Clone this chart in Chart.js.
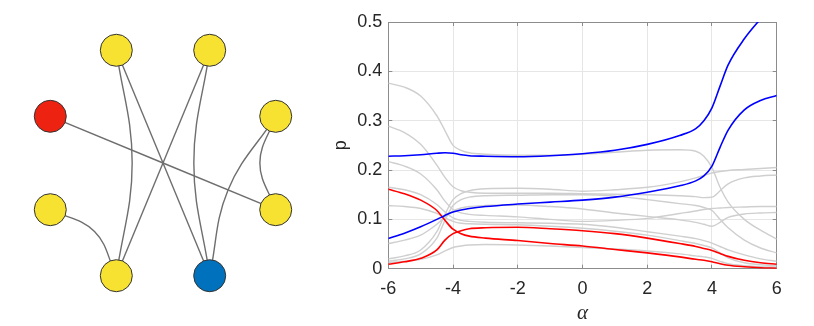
<!DOCTYPE html>
<html>
<head>
<meta charset="utf-8">
<script src="https://cdn.jsdelivr.net/npm/chart.js@4.4.0/dist/chart.umd.min.js"></script>
<style>
  body { margin: 0; background: #fff; }
  #wrap { position: relative; width: 814px; height: 326px; }
  #graphBox { position: absolute; left: 0; top: 0; width: 326px; height: 326px; }
  #lineBox { position: absolute; left: 330px; top: 0; width: 484px; height: 326px; }
</style>
</head>
<body>
<div id="wrap">
  <div id="graphBox"><canvas id="graphCanvas"></canvas></div>
  <div id="lineBox"><canvas id="lineCanvas"></canvas></div>
</div>
<script>
// ---- network (left panel) ----
// node 0 sits at 22.5 degrees, the rest follow counter-clockwise every 45 degrees
var nodeColors = ['#F8E231', '#F8E231', '#F8E231', '#EE2211', '#F8E231', '#F8E231', '#0072BD', '#F8E231'];
var edges = [[2, 5], [2, 6], [1, 5], [1, 6], [3, 7], [0, 6], [0, 7], [4, 5]];

// ---- p versus alpha (right panel) ----
var alpha = [-6, -5.5, -5, -4.5, -4.25, -4, -3.75, -3.5, -3, -2, -1, 0, 1, 2, 3, 3.5, 3.75, 4, 4.25, 4.5, 5, 5.5, 6];

var blueHigh = [0.228, 0.229, 0.231, 0.234, 0.235, 0.234, 0.231, 0.229, 0.228, 0.227, 0.229, 0.233, 0.240, 0.252, 0.270, 0.284, 0.300, 0.326, 0.370, 0.413, 0.466, 0.506, 0.540];
var blueLow = [0.061, 0.072, 0.085, 0.100, 0.108, 0.115, 0.119, 0.122, 0.126, 0.131, 0.135, 0.139, 0.145, 0.155, 0.168, 0.178, 0.188, 0.208, 0.246, 0.281, 0.322, 0.341, 0.351];
var redHigh = [0.161, 0.152, 0.139, 0.118, 0.098, 0.080, 0.071, 0.066, 0.062, 0.057, 0.051, 0.046, 0.039, 0.032, 0.024, 0.019, 0.017, 0.014, 0.010, 0.007, 0.004, 0.002, 0.001];
var redLow = [0.009, 0.014, 0.021, 0.038, 0.058, 0.071, 0.077, 0.081, 0.083, 0.084, 0.081, 0.077, 0.071, 0.062, 0.051, 0.045, 0.041, 0.037, 0.031, 0.025, 0.017, 0.012, 0.009];

var grayA = [0.376, 0.368, 0.350, 0.310, 0.280, 0.250, 0.240, 0.235, 0.232, 0.230, 0.230, 0.232, 0.236, 0.240, 0.241, 0.238, 0.228, 0.205, 0.165, 0.135, 0.100, 0.078, 0.060];
var grayB = [0.289, 0.276, 0.252, 0.210, 0.185, 0.166, 0.158, 0.155, 0.153, 0.153, 0.153, 0.152, 0.151, 0.150, 0.148, 0.146, 0.144, 0.145, 0.158, 0.172, 0.184, 0.188, 0.190];
var grayC = [0.020, 0.026, 0.038, 0.075, 0.110, 0.140, 0.152, 0.158, 0.162, 0.163, 0.161, 0.157, 0.160, 0.165, 0.176, 0.184, 0.189, 0.194, 0.197, 0.199, 0.201, 0.203, 0.205];
var grayD = [0.015, 0.020, 0.030, 0.062, 0.098, 0.128, 0.140, 0.145, 0.148, 0.149, 0.150, 0.150, 0.147, 0.140, 0.132, 0.128, 0.124, 0.118, 0.100, 0.083, 0.058, 0.042, 0.032];
var grayE = [0.051, 0.058, 0.068, 0.090, 0.105, 0.117, 0.123, 0.126, 0.128, 0.129, 0.126, 0.121, 0.113, 0.106, 0.099, 0.094, 0.090, 0.086, 0.094, 0.104, 0.111, 0.113, 0.114];
var grayF = [0.217, 0.208, 0.192, 0.160, 0.137, 0.120, 0.113, 0.110, 0.108, 0.105, 0.100, 0.096, 0.098, 0.102, 0.112, 0.117, 0.120, 0.122, 0.123, 0.124, 0.125, 0.126, 0.126];
var grayG = [0.165, 0.160, 0.150, 0.130, 0.115, 0.103, 0.098, 0.096, 0.094, 0.093, 0.092, 0.090, 0.084, 0.075, 0.066, 0.061, 0.057, 0.052, 0.045, 0.038, 0.028, 0.020, 0.015];
var grayH = [0.128, 0.126, 0.122, 0.112, 0.103, 0.096, 0.092, 0.091, 0.090, 0.089, 0.086, 0.082, 0.076, 0.068, 0.057, 0.051, 0.047, 0.042, 0.032, 0.022, 0.012, 0.008, 0.006];
var grayI = [0.012, 0.015, 0.019, 0.028, 0.036, 0.043, 0.046, 0.048, 0.049, 0.048, 0.046, 0.043, 0.040, 0.036, 0.030, 0.026, 0.024, 0.021, 0.015, 0.010, 0.006, 0.004, 0.003];

var xTicks = [-6, -4, -2, 0, 2, 4, 6];
var yTicks = [0, 0.1, 0.2, 0.3, 0.4, 0.5];

// ---------- left: graph drawn as a scatter chart ----------
function nodePos(k) {
    var a = (22.5 + 45 * k) * Math.PI / 180;
    return { x: Math.cos(a), y: Math.sin(a) };
}

var BEND = 0.13;
var graphSets = [];

// nodes on top
graphSets.push({
    data: nodeColors.map(function (c, k) { return nodePos(k); }),
    pointRadius: 16,
    pointHoverRadius: 16,
    pointBackgroundColor: nodeColors,
    pointBorderColor: '#333333',
    pointBorderWidth: 1,
    showLine: false,
    order: 0
});

edges.forEach(function (e) {
    var a = nodePos(e[0]), b = nodePos(e[1]);
    var mx = (a.x + b.x) / 2, my = (a.y + b.y) / 2;
    var len = Math.sqrt(mx * mx + my * my);
    var pts = [a];
    // edges that are not diameters bow a little towards the centre
    if (len > 1e-6) {
        pts.push({ x: mx - BEND * mx / len, y: my - BEND * my / len });
    }
    pts.push(b);
    graphSets.push({
        data: pts,
        showLine: true,
        borderColor: '#6E6E6E',
        borderWidth: 1.4,
        pointRadius: 0,
        tension: 0.4,
        order: 1
    });
});

new Chart(document.getElementById('graphCanvas'), {
    type: 'scatter',
    data: { datasets: graphSets },
    options: {
        responsive: true,
        maintainAspectRatio: false,
        animation: false,
        layout: { padding: 0, autoPadding: false },
        plugins: { legend: { display: false }, tooltip: { enabled: false } },
        scales: {
            x: { type: 'linear', min: -1.336, max: 1.336, display: false },
            y: { type: 'linear', min: -1.336, max: 1.336, display: false }
        }
    }
});

// ---------- right: p against alpha ----------
function toPoints(vals) {
    return alpha.map(function (a, i) { return { x: a, y: vals[i] }; });
}

function lineSet(vals, color, width, order) {
    return {
        data: toPoints(vals),
        borderColor: color,
        borderWidth: width,
        pointRadius: 0,
        fill: false,
        cubicInterpolationMode: 'monotone',
        order: order
    };
}

var lineSets = [
    lineSet(blueHigh, '#0000FF', 1.6, 0),
    lineSet(blueLow, '#0000FF', 1.6, 0),
    lineSet(redHigh, '#FF0000', 1.6, 0),
    lineSet(redLow, '#FF0000', 1.6, 0)
];
[grayA, grayB, grayC, grayD, grayE, grayF, grayG, grayH, grayI].forEach(function (g) {
    lineSets.push(lineSet(g, '#CFCFCF', 1.4, 1));
});

var tickFont = { family: 'Liberation Sans, Arial, sans-serif', size: 18 };
var boxColor = '#8C8C8C';

function fixedTicks(list) {
    return function (scale) {
        scale.ticks = list.map(function (v) { return { value: v }; });
    };
}

new Chart(document.getElementById('lineCanvas'), {
    type: 'line',
    data: { datasets: lineSets },
    options: {
        responsive: true,
        maintainAspectRatio: false,
        animation: false,
        layout: { padding: { top: 22, right: 37.3, bottom: 0, left: 0 }, autoPadding: false },
        plugins: { legend: { display: false }, tooltip: { enabled: false } },
        scales: {
            x: {
                type: 'linear', position: 'bottom', min: -6, max: 6,
                afterBuildTicks: fixedTicks(xTicks),
                ticks: { color: '#262626', font: tickFont, padding: 13.5, maxRotation: 0 },
                grid: { color: '#E6E6E6', tickColor: boxColor, tickLength: -4 },
                border: { color: boxColor },
                title: {
                    display: true, text: 'α', color: '#262626',
                    font: { family: 'Liberation Serif, serif', style: 'italic', size: 21 },
                    padding: { top: 0, bottom: 0 }
                },
                afterFit: function (s) { s.height = 57.3; }
            },
            x2: {
                type: 'linear', position: 'top', min: -6, max: 6,
                afterBuildTicks: fixedTicks(xTicks),
                ticks: { display: false },
                grid: { drawOnChartArea: false, tickColor: boxColor, tickLength: -4 },
                border: { color: boxColor },
                afterFit: function (s) { s.height = 0; }
            },
            y: {
                type: 'linear', position: 'left', min: 0, max: 0.5,
                afterBuildTicks: fixedTicks(yTicks),
                ticks: { color: '#262626', font: tickFont, padding: 10 },
                grid: { color: '#E6E6E6', tickColor: boxColor, tickLength: -4 },
                border: { color: boxColor },
                title: {
                    display: true, text: 'p', color: '#262626',
                    font: { family: 'Liberation Sans, Arial, sans-serif', size: 18 },
                    padding: { top: 0, bottom: 0 }
                },
                afterFit: function (s) { s.width = 58.3; }
            },
            y2: {
                type: 'linear', position: 'right', min: 0, max: 0.5,
                afterBuildTicks: fixedTicks(yTicks),
                ticks: { display: false },
                grid: { drawOnChartArea: false, tickColor: boxColor, tickLength: -4 },
                border: { color: boxColor },
                afterFit: function (s) { s.width = 0; }
            }
        }
    }
});
</script>
</body>
</html>
